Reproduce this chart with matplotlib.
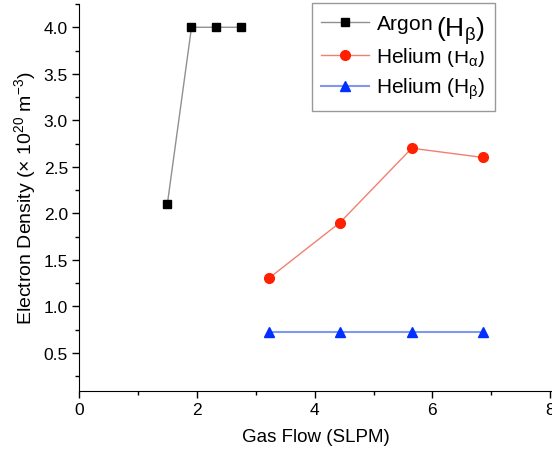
import matplotlib.pyplot as plt
from matplotlib.patches import Rectangle
from matplotlib.ticker import MultipleLocator

plt.rcParams["font.family"] = ["Liberation Sans", "DejaVu Sans"]
plt.rcParams["mathtext.fontset"] = "custom"
plt.rcParams["mathtext.rm"] = "Liberation Sans"
plt.rcParams["mathtext.it"] = "Liberation Sans"

# gas flow (SLPM) and electron density (x 1e20 m^-3)
argon_flow = [1.5, 1.91, 2.33, 2.75]
argon_hb = [2.1, 4.0, 4.0, 4.0]
helium_flow = [3.22, 4.43, 5.65, 6.86]
helium_ha = [1.3, 1.9, 2.7, 2.6]
helium_hb = [0.72, 0.72, 0.72, 0.72]

W, H = 552, 456
fig = plt.figure(figsize=(W / 100, H / 100), dpi=100)
ax = fig.add_axes([79 / W, 1 - 392 / H, (W - 79) / W, (392 - 5) / H])

ax.plot(argon_flow, argon_hb, color="#909090", lw=1, marker="s", ms=6,
        mfc="black", mec="black", label="Argon (H$_\\beta$)")
ax.plot(helium_flow, helium_ha, color="#f08070", lw=1, marker="o", ms=7,
        mfc="#ff2000", mec="#ff2000", label="Helium (H$_\\alpha$)")
ax.plot(helium_flow, helium_hb, color="#8098f0", lw=1.5, marker="^", ms=7.5,
        mfc="#0030ff", mec="#0030ff", label="Helium (H$_\\beta$)")

ax.set_xlim(0, 473 / 58.9)
ax.set_ylim(0.09, 4.25)
ax.xaxis.set_major_locator(MultipleLocator(2))
ax.xaxis.set_minor_locator(MultipleLocator(1))
ax.yaxis.set_minor_locator(MultipleLocator(0.25))
ax.set_yticks([0.5, 1.0, 1.5, 2.0, 2.5, 3.0, 3.5, 4.0])
ax.set_yticklabels(["0.5", "1.0", "1.5", "2.0", "2.5", "3.0", "3.5", "4.0"])
ax.tick_params(which="major", direction="out", length=5, width=1, labelsize=12.5, pad=3)
ax.tick_params(which="minor", direction="out", length=3, width=1)
ax.spines["top"].set_visible(False)
ax.spines["right"].set_visible(False)

ax.set_xlabel("Gas Flow (SLPM)", fontsize=13.5, labelpad=8)
ax.set_ylabel("Electron Density ($\\times$ 10$^{20}$ m$^{-3}$)", fontsize=14, labelpad=4)

leg = ax.legend(loc="upper left", bbox_to_anchor=(312 / W, 1 - 4 / H),
                bbox_transform=fig.transFigure, fontsize=15, frameon=True,
                fancybox=False, edgecolor="#808080", handlelength=2.3,
                handletextpad=0.3, borderpad=0.45, labelspacing=0.36,
                borderaxespad=0)
leg.get_frame().set_linewidth(1)

# oversized subscript label sitting over the legend
fig.patches.append(Rectangle((433 / W, 1 - 52 / H), 57 / W, 42 / H,
                             transform=fig.transFigure, facecolor="white",
                             edgecolor="none", zorder=10))
fig.text(460 / W, 1 - 31 / H, "(H$_\\beta$)", fontsize=19, ha="center",
         va="center", zorder=11)

fig.savefig("out.png", dpi=100)
